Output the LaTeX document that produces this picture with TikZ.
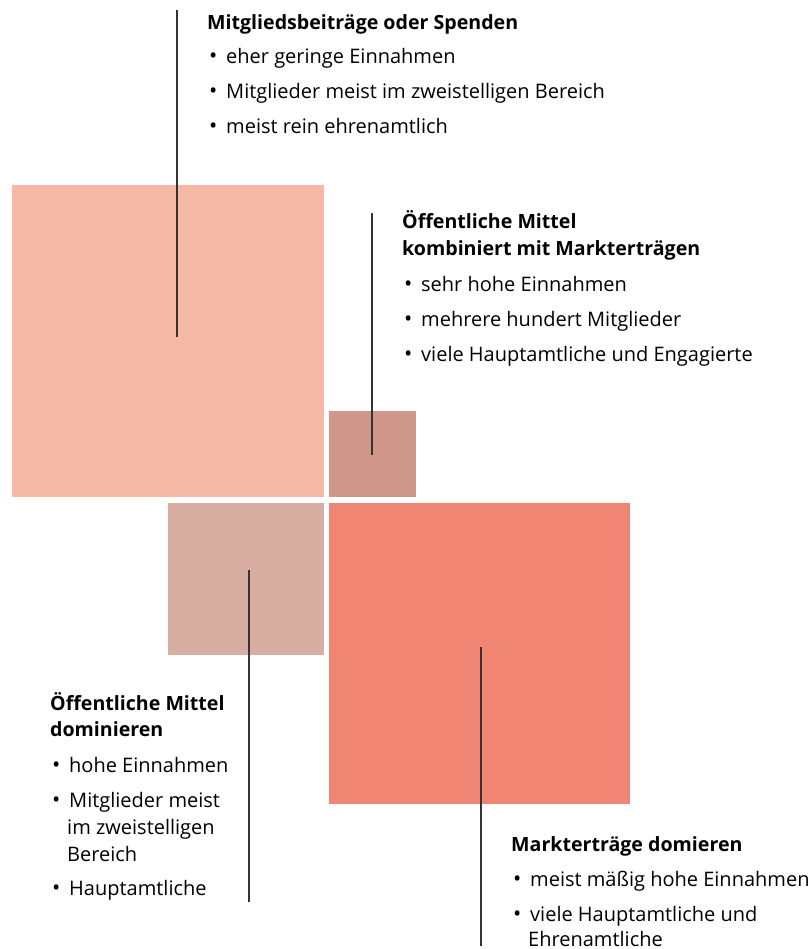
\documentclass[tikz,border=0pt]{standalone}
\usepackage{fontspec}
\setmainfont{Open Sans}
\definecolor{cpink}{HTML}{F6B9A6}
\definecolor{cbrown}{HTML}{CF968A}
\definecolor{ctan}{HTML}{D8AEA2}
\definecolor{ccoral}{HTML}{EF8572}
\definecolor{cline}{HTML}{333333}
\tikzset{
  lead/.style={draw=cline, line width=1.2pt},
  ttl/.style={anchor=base west, inner sep=0pt, font=\fontsize{19.6}{27}\selectfont\bfseries},
  txt/.style={anchor=base west, inner sep=0pt, font=\fontsize{20}{27}\selectfont},
  bul/.style={anchor=base west, inner sep=0pt, font=\fontsize{22}{27}\selectfont},
}
\begin{document}
\begin{tikzpicture}[x=1pt,y=-1pt]
\useasboundingbox (0,0) rectangle (810,949);
% squares
\fill[cpink] (12,185) rectangle (324,497);
\fill[cbrown] (329,411) rectangle (416,497);
\fill[ctan] (168,503) rectangle (324,655);
\fill[ccoral] (329,503) rectangle (630,804);
% leader lines
\coordinate (l1a) at (177,10); \coordinate (l1b) at (177,337);
\coordinate (l2a) at (372,213); \coordinate (l2b) at (372,455);
\coordinate (l3a) at (249,570); \coordinate (l3b) at (249,902);
\coordinate (l4a) at (481,647); \coordinate (l4b) at (481,946);
\draw[lead] (l1a) -- (l1b);
\draw[lead] (l2a) -- (l2b);
\draw[lead] (l3a) -- (l3b);
\draw[lead] (l4a) -- (l4b);
% block 1
\node[ttl] (t1) at (207,30) {Mitgliedsbeiträge oder Spenden};
\node[bul] (b1a) at (209,64) {\textbullet};
\node[txt] (i1a) at (226,64) {eher geringe Einnahmen};
\node[bul] (b1b) at (209,99) {\textbullet};
\node[txt] (i1b) at (226,99) {Mitglieder meist im zweistelligen Bereich};
\node[bul] (b1c) at (209,134) {\textbullet};
\node[txt] (i1c) at (226,134) {meist rein ehrenamtlich};
% block 2
\node[ttl] (t2a) at (402,229) {Öffentliche Mittel};
\node[ttl] (t2b) at (402,256) {kombiniert mit Markterträgen};
\node[bul] (b2a) at (404,291) {\textbullet};
\node[txt] (i2a) at (421,291) {sehr hohe Einnahmen};
\node[bul] (b2b) at (404,326) {\textbullet};
\node[txt] (i2b) at (421,326) {mehrere hundert Mitglieder};
\node[bul] (b2c) at (404,361) {\textbullet};
\node[txt] (i2c) at (421,361) {viele Hauptamtliche und Engagierte};
% block 3
\node[ttl] (t3a) at (50,710) {Öffentliche Mittel};
\node[ttl] (t3b) at (50,736) {dominieren};
\node[bul] (b3a) at (52,772) {\textbullet};
\node[txt] (i3a) at (69,772) {hohe Einnahmen};
\node[bul] (b3b) at (52,807) {\textbullet};
\node[txt] (i3b) at (69,807) {Mitglieder meist};
\node[txt] (i3c) at (67,834) {im zweistelligen};
\node[txt] (i3d) at (67,861) {Bereich};
\node[bul] (b3e) at (52,895) {\textbullet};
\node[txt] (i3e) at (69,895) {Hauptamtliche};
% block 4
\node[ttl] (t4) at (511,851) {Markterträge domieren};
\node[bul] (b4a) at (513,886) {\textbullet};
\node[txt] (i4a) at (530,886) {meist mäßig hohe Einnahmen};
\node[bul] (b4b) at (513,921) {\textbullet};
\node[txt] (i4b) at (530,921) {viele Hauptamtliche und};
\node[txt] (i4c) at (528,946) {Ehrenamtliche};
\end{tikzpicture}
\end{document}
